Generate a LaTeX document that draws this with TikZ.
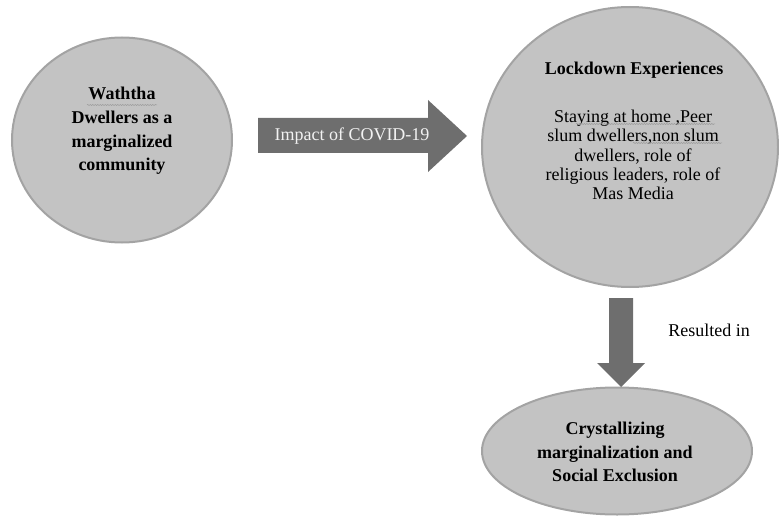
\documentclass[tikz,border=0pt]{standalone}
\usepackage{fontspec}
\setmainfont{Liberation Serif}
\usetikzlibrary{shapes.geometric,decorations.pathmorphing}
\definecolor{bubblefill}{HTML}{C3C3C3}
\definecolor{bubbleline}{HTML}{A3A3A3}
\definecolor{arrowfill}{HTML}{6E6E6E}
\definecolor{squigc}{HTML}{9A9A9A}
\tikzset{
  bubble/.style={ellipse, draw=bubbleline, line width=2pt, fill=bubblefill, inner sep=0pt},
  boldtxt/.style={align=center, font=\fontsize{18}{23.7}\selectfont\bfseries, inner sep=0pt},
  plaintxt/.style={align=center, font=\fontsize{18}{19.2}\selectfont, inner sep=0pt},
  blockarrow/.style={fill=arrowfill, draw=none},
  squigline/.style={draw=squigc, line width=0.5pt, decorate, decoration={snake, amplitude=0.6pt, segment length=2.5pt}}
}
\begin{document}
\begin{tikzpicture}[x=1pt,y=1pt]
\useasboundingbox (0,0) rectangle (779,-516);
% bubbles
\node[bubble, minimum width=220pt, minimum height=205pt] (wd) at (122,-140) {};
\node[bubble, minimum width=296pt, minimum height=280pt] (lx) at (630,-147) {};
\node[bubble, minimum width=270pt, minimum height=127pt] (cm) at (617,-451) {};
% texts
\node[boldtxt] (wdtxt) at (122,-131) {Waththa\\Dwellers as a\\marginalized\\community};
\node[boldtxt] (lxtitle) at (634,-70) {Lockdown Experiences};
\node[plaintxt] (lxtxt) at (633,-155) {Staying at home ,Peer\\slum dwellers,non slum\\dwellers, role of\\religious leaders, role of\\Mas Media};
\node[boldtxt, font=\fontsize{18}{23.5}\selectfont\bfseries] (cmtxt) at (615,-452) {Crystallizing\\marginalization and\\Social Exclusion};
% spell-check squiggles
\coordinate (sq1a) at (87,-105);  \coordinate (sq1b) at (157,-105);
\coordinate (sq2a) at (576,-124); \coordinate (sq2b) at (715,-124);
\coordinate (sq3a) at (633,-143); \coordinate (sq3b) at (722,-143);
\draw[squigline] (sq1a) -- (sq1b);
\draw[squigline] (sq2a) -- (sq2b);
\draw[squigline] (sq3a) -- (sq3b);
% right block arrow
\fill[blockarrow] (258,-118) -- (428,-118) -- (428,-100) -- (467,-136) -- (428,-172) -- (428,-153) -- (258,-153) -- cycle;
\node[plaintxt, text=white!95!black] (ratxt) at (352,-136) {Impact of COVID-19};
% down block arrow
\fill[blockarrow] (609,-298) -- (633,-298) -- (633,-363) -- (645,-363) -- (621,-387) -- (597,-363) -- (609,-363) -- cycle;
\node[plaintxt] (res) at (709,-330) {Resulted in};
\end{tikzpicture}
\end{document}
